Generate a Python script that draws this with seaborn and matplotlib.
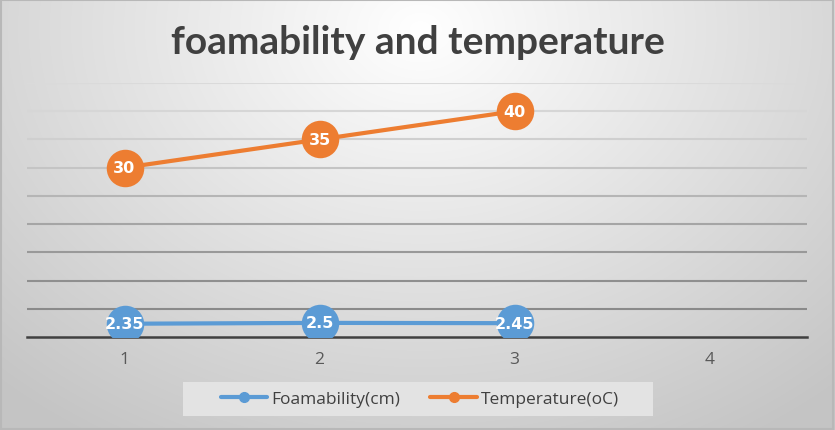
import matplotlib
matplotlib.use("Agg")
import matplotlib.pyplot as plt
from matplotlib.lines import Line2D
from matplotlib.patches import Rectangle
import numpy as np
import pandas as pd
import seaborn as sns

# chart data
categories = [1, 2, 3, 4]
points = [1, 2, 3]
foamability = [2.35, 2.5, 2.45]
temperature = [30, 35, 40]
series_names = ["Foamability(cm)", "Temperature(oC)"]
y_ticks = list(range(0, 50, 5))

COLORS = {"Foamability(cm)": "#5B9BD5", "Temperature(oC)": "#ED7D31"}
GRID_COLORS = ["#8a8a8a", "#8f8f8f", "#999999", "#a5a5a5", "#b5b5b5",
               "#c4c4c4", "#cfcfcf", "#d6d6d6", "#dadada"]

sns.set_theme(style="white")
plt.rcParams["font.family"] = ["Open Sans", "DejaVu Sans"]

df = pd.DataFrame({
    "x": points * 2,
    "value": foamability + temperature,
    "series": [series_names[0]] * len(points) + [series_names[1]] * len(points),
})

fig = plt.figure(figsize=(8.35, 4.31), dpi=100)

# radial gradient background like the office chart style
bg = fig.add_axes([0, 0, 1, 1], zorder=0)
W, H = 835, 431
xx, yy = np.meshgrid(np.arange(W), np.arange(H))
t = np.sqrt(((xx - 420) / 540.0) ** 2 + ((yy - 30) / 420.0) ** 2)
shade = 1.0 - 0.23 * np.clip(t, 0, 1.15) / 1.15
bg.imshow(np.dstack([shade] * 3), aspect="auto", extent=(0, 1, 0, 1), origin="upper")
bg.set_axis_off()
fig.patches.append(Rectangle((0.001, 0.002), 0.997, 0.995, transform=fig.transFigure,
                             fill=False, edgecolor="#b8b8b8", linewidth=1.5, zorder=0.5))

ax = fig.add_axes([27 / W, 93 / H, 780 / W, 254 / H], zorder=1)
ax.patch.set_visible(False)

sns.lineplot(data=df, x="x", y="value", hue="series", hue_order=series_names,
             palette=COLORS, marker="o", markersize=27, markeredgewidth=0,
             linewidth=3, legend=False, ax=ax)

for xv, yv in zip(points, foamability):
    ax.text(xv, yv, f"{yv:g}", ha="center", va="center", color="white",
            fontsize=11.5, fontweight="bold", family="DejaVu Sans", zorder=5)
for xv, yv in zip(points, temperature):
    ax.text(xv, yv, f"{yv:g}", ha="center", va="center", color="white",
            fontsize=11.5, fontweight="bold", family="DejaVu Sans", zorder=5)

ax.set_xlim(0.5, 4.5)
ax.set_ylim(0, 45)
ax.set_xticks(categories)
ax.set_xticklabels([str(c) for c in categories])
ax.set_yticks(y_ticks)
ax.set_yticklabels([])
ax.tick_params(axis="both", length=0)
ax.tick_params(axis="x", pad=10, labelsize=12.5, labelcolor="#595959")
ax.set_xlabel("")
ax.set_ylabel("")
ax.yaxis.grid(True, linewidth=1.5)
ax.set_axisbelow(True)
for line, c in zip(ax.yaxis.get_gridlines()[1:], GRID_COLORS):
    line.set_color(c)
ax.yaxis.get_gridlines()[0].set_visible(False)
for side in ["top", "left", "right"]:
    ax.spines[side].set_visible(False)
ax.spines["bottom"].set_color("#404040")
ax.spines["bottom"].set_linewidth(1.8)
ax.spines["bottom"].set_zorder(1.5)

fig.text(0.5, 1 - 43 / H, "foamability and temperature", ha="center", va="center",
         fontsize=28, fontweight="bold", color="#404040", family=["Lato", "DejaVu Sans"])

# legend box
fig.patches.append(Rectangle((183 / W, 14 / H), 470 / W, 34 / H, transform=fig.transFigure,
                             facecolor="#e3e3e3", edgecolor="none", zorder=1))
handles = [Line2D([0], [0], color=COLORS[n], linewidth=3, marker="o", markersize=7)
           for n in series_names]
leg = fig.legend(handles, series_names, loc="center", bbox_to_anchor=(420 / W, 31 / H),
                 ncol=2, frameon=False, fontsize=12.5, handlelength=2.7,
                 handletextpad=0.25, columnspacing=1.7)
for txt in leg.get_texts():
    txt.set_color("#404040")
leg.set_zorder(2)

fig.savefig("out.png", dpi=100)
